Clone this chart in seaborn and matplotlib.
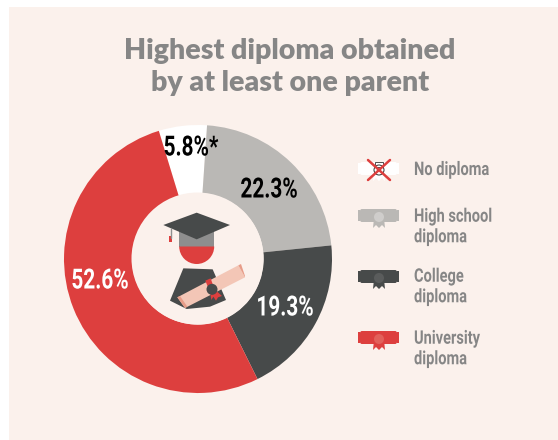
import matplotlib
matplotlib.use('Agg')
import matplotlib.pyplot as plt
import matplotlib.patheffects as pe
from matplotlib.patches import Rectangle, Polygon, Circle, Wedge, FancyBboxPatch
from matplotlib.transforms import Affine2D
import seaborn as sns

# данные
categories = ['No diploma', 'High school\ndiploma', 'College\ndiploma', 'University\ndiploma']
shares = [5.8, 22.3, 19.3, 52.6]
share_labels = ['5.8%*', '22.3%', '19.3%', '52.6%']
label_colors = ['#000000', '#000000', '#ffffff', '#ffffff']
title = 'Highest diploma obtained\nby at least one parent'

BG = '#FBF1EC'
GREY_TXT = '#868686'
colors = sns.color_palette(['#FFFFFF', '#BAB8B5', '#474A4A', '#DD3F3E'])
seal_colors = ['#FFFFFF', '#CFCDCB', '#5A5C5C', '#E2605A']

sns.set_theme(style='white')
plt.rcParams['font.family'] = ['Roboto', 'DejaVu Sans']


# узкого шрифта нет, поэтому сжимаем текст по горизонтали
class Squeeze(pe.AbstractPathEffect):
    def __init__(self, cx, sx):
        super().__init__()
        self.cx = cx
        self.sx = sx

    def draw_path(self, renderer, gc, tpath, affine, rgbFace=None):
        squeeze = Affine2D().translate(-self.cx, 0).scale(self.sx, 1).translate(self.cx, 0)
        renderer.draw_path(gc, tpath, affine + squeeze, rgbFace)


fig = plt.figure(figsize=(5.58, 4.40), dpi=100, facecolor='white')

# холст в пикселях
ax = fig.add_axes([0, 0, 1, 1], zorder=0)
ax.set_xlim(0, 558)
ax.set_ylim(440, 0)
ax.axis('off')
ax.add_patch(Rectangle((9, 7), 549, 433, color=BG, lw=0))

ax.text(290, 67, title, ha='center', va='center', fontsize=20.5, color=GREY_TXT,
        fontweight='heavy', family='Lato', linespacing=1.27)

# кольцо
pie_ax = fig.add_axes([64 / 558, (440 - 393) / 440, 268 / 558, 268 / 440], zorder=1)
pie_ax.pie(shares, colors=colors, startangle=107, counterclock=False, radius=1,
           wedgeprops=dict(width=0.51, linewidth=0))
pie_ax.set_xlim(-1, 1)
pie_ax.set_ylim(-1, 1)

# верхний слой для подписей и значков
top = fig.add_axes([0, 0, 1, 1], zorder=2)
top.set_xlim(0, 558)
top.set_ylim(440, 0)
top.axis('off')
top.patch.set_alpha(0)

label_pos = [(191, 148), (269, 190), (285, 308), (100, 281)]
for txt, col, (x, y) in zip(share_labels, label_colors, label_pos):
    top.text(x, y, txt, ha='center', va='center', color=col, fontsize=20,
             fontweight='bold', path_effects=[Squeeze(x, 0.75)])


def diploma(y, color, seal):
    top.add_patch(FancyBboxPatch((360, y - 6), 37, 13, boxstyle='round,pad=0,rounding_size=2',
                                 color=color, lw=0))
    top.add_patch(Rectangle((358, y - 5), 2, 11, color=color, lw=0))
    top.add_patch(Rectangle((397, y - 5), 2, 11, color=color, lw=0))
    top.add_patch(Polygon([(374, y + 3), (384, y + 3), (385, y + 13), (382, y + 10),
                           (379, y + 13), (376, y + 10), (373, y + 13)], color=color, lw=0))
    top.add_patch(Circle((379, y + 2), 5, color=seal, lw=0))


icon_y = [168, 215, 276, 337]
text_y = [170, 227, 287, 349]
for name, c, s, iy, ty in zip(categories, colors, seal_colors, icon_y, text_y):
    diploma(iy, c, s)
    top.text(414, ty, name, ha='left', va='center', fontsize=13.5, color=GREY_TXT,
             fontweight='bold', linespacing=1.18, path_effects=[Squeeze(414, 0.78)])

# перечёркнутый значок "No diploma"
top.add_patch(Circle((379, 170), 5, fill=False, ec='#333333', lw=0.7))
top.add_patch(Rectangle((375, 162), 8, 5, fill=False, ec='#333333', lw=0.6))
top.plot([368, 390], [160, 180], color='#DD3F3E', lw=1.8)
top.plot([390, 368], [160, 180], color='#DD3F3E', lw=1.8)


# центр: выпускник
def z(*pts):
    return [(130 + px / 3, 190 + py / 3) for px, py in pts]


top.add_patch(Circle((197.5, 258.5), 66, color=BG, lw=0))
top.add_patch(Polygon(z((148, 120), (252, 120), (252, 170), (148, 170)), color='#8E8E8E', lw=0))
top.add_patch(Wedge((196.7, 246.5), 17.5, 0, 180, color='#DD3F3E', lw=0))
top.add_patch(Polygon(z((100, 105), (200, 68), (300, 105), (200, 148)), color='#474A4A', lw=0))
top.plot([170.5, 170.5], [228, 238], color='#8E8E8E', lw=1)
top.add_patch(Rectangle((169, 236), 3, 6, color='#DD3F3E', lw=0))
top.add_patch(Polygon(z((160, 235), (248, 238), (288, 330), (240, 350), (170, 357), (120, 332)),
                      color='#474A4A', lw=0))
top.add_patch(Polygon(z((142, 322), (325, 226), (345, 262), (165, 354)), color='#F3C6B6', lw=0))
top.add_patch(Polygon(z((142, 322), (150, 318), (172, 350), (165, 354)), color='#E79C88', lw=0))
top.add_patch(Polygon(z((325, 226), (333, 222), (345, 258), (345, 262)), color='#E79C88', lw=0))
top.add_patch(Polygon(z((226, 272), (242, 265), (250, 288), (234, 292)), color='#DD3F3E', lw=0))
top.add_patch(Polygon(z((240, 306), (258, 302), (276, 318), (264, 322), (258, 332), (250, 320), (244, 330)),
                      color='#DD3F3E', lw=0))
top.add_patch(Circle((130 + 246 / 3, 190 + 298 / 3), 5.5, color='#474A4A', lw=0))

fig.savefig('out.png', dpi=100, facecolor='white')
